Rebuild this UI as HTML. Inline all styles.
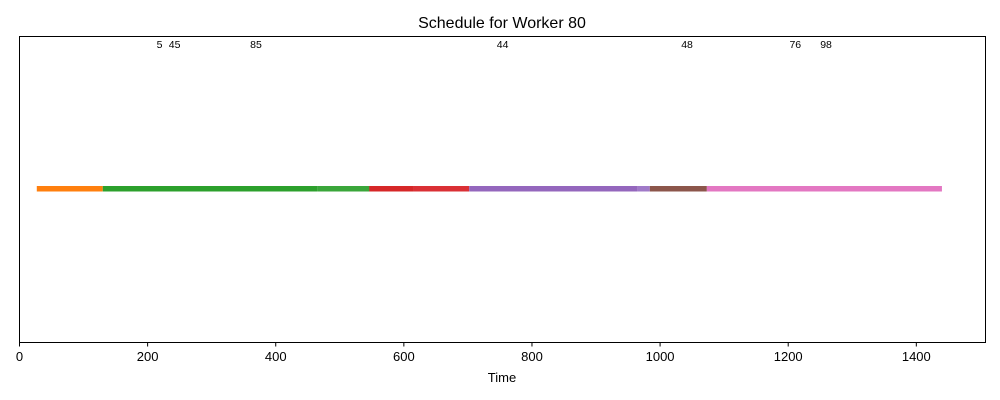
<!DOCTYPE html>
<html><head><meta charset="utf-8"><style>body{margin:0;background:#fff}svg{display:block;font-family:"Liberation Sans","DejaVu Sans",sans-serif}</style></head>
<body>
<svg id="chart" width="1000" height="400">
<rect x="0" y="0" width="1000" height="400" fill="#fff"/>
<text x="502" y="28" text-anchor="middle" font-size="16" fill="#000">Schedule for Worker 80</text>
<g id="segs"></g>
<g id="labels"></g>
<rect x="19.5" y="36.5" width="966" height="306" fill="none" stroke="#000" stroke-width="1"/>
<g id="xaxis"></g>
<text x="502" y="382" text-anchor="middle" font-size="13" fill="#000">Time</text>
</svg>
<script>
const segStarts=[27,130,465,546,615,702,965,984,1073];
const segEnds=[130,465,548,615,702,965,984,1073,1440];
const segColors=['#ff7f0e','#2ca02c','#3aa63a','#d62728','#da3035','#9467bd','#a07ac8','#8c564b','#e377c2'];
const taskIds=['5','45','85','44','48','76','98'];
const taskPos=[214,233,360,745,1033,1202,1250];
const xTicks=[0,200,400,600,800,1000,1200,1400];
const X0=19.5,X1=985.5,XMIN=0,XMAX=1508;
const ns='http://www.w3.org/2000/svg';
function x(v){return X0+(v-XMIN)/(XMAX-XMIN)*(X1-X0);}
const segs=document.getElementById('segs');
for(let i=0;i<segStarts.length;i++){
 const r=document.createElementNS(ns,'rect');
 r.setAttribute('x',x(segStarts[i]));r.setAttribute('y',186);
 r.setAttribute('width',x(segEnds[i])-x(segStarts[i]));r.setAttribute('height',5.5);
 r.setAttribute('fill',segColors[i]);
 
 
 segs.appendChild(r);
}
const lab=document.getElementById('labels');
for(let i=0;i<taskIds.length;i++){
 const t=document.createElementNS(ns,'text');
 t.setAttribute('x',x(taskPos[i]));t.setAttribute('y',48);
 t.setAttribute('font-size','10.5');t.textContent=taskIds[i];
 
 
 lab.appendChild(t);
}
const ax=document.getElementById('xaxis');
xTicks.forEach(v=>{
 const l=document.createElementNS(ns,'line');
 l.setAttribute('x1',x(v));l.setAttribute('x2',x(v));l.setAttribute('y1',342.5);l.setAttribute('y2',346.5);
 l.setAttribute('stroke','#000');
 
 
 ax.appendChild(l);
 const t=document.createElementNS(ns,'text');
 t.setAttribute('x',x(v));t.setAttribute('y',361);t.setAttribute('text-anchor','middle');
 t.setAttribute('font-size','13');t.textContent=v;
 
 
 ax.appendChild(t);
});
</script>
</body></html>
